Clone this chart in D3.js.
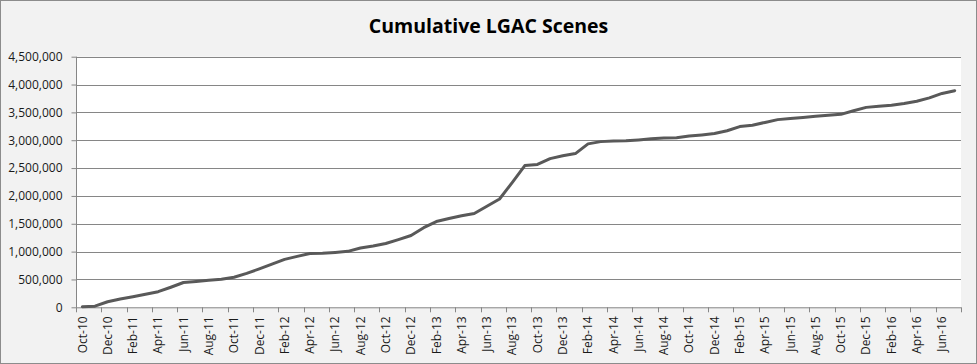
<!DOCTYPE html>
<html>
<head>
<meta charset="utf-8">
<script src="https://cdn.jsdelivr.net/npm/d3@7"></script>
<style>
  html, body { margin: 0; padding: 0; background: #fff; }
  svg { display: block; }
</style>
</head>
<body>
<svg id="chart" width="977" height="364"></svg>
<script>
const title = "Cumulative LGAC Scenes";

const months = [
  "Oct-10","Nov-10","Dec-10",
  "Jan-11","Feb-11","Mar-11","Apr-11","May-11","Jun-11","Jul-11","Aug-11","Sep-11","Oct-11","Nov-11","Dec-11",
  "Jan-12","Feb-12","Mar-12","Apr-12","May-12","Jun-12","Jul-12","Aug-12","Sep-12","Oct-12","Nov-12","Dec-12",
  "Jan-13","Feb-13","Mar-13","Apr-13","May-13","Jun-13","Jul-13","Aug-13","Sep-13","Oct-13","Nov-13","Dec-13",
  "Jan-14","Feb-14","Mar-14","Apr-14","May-14","Jun-14","Jul-14","Aug-14","Sep-14","Oct-14","Nov-14","Dec-14",
  "Jan-15","Feb-15","Mar-15","Apr-15","May-15","Jun-15","Jul-15","Aug-15","Sep-15","Oct-15","Nov-15","Dec-15",
  "Jan-16","Feb-16","Mar-16","Apr-16","May-16","Jun-16","Jul-16"
];

const scenes = [
  10000, 20000, 100000,
  150000, 190000, 235000, 280000, 360000, 445000, 465000, 485000, 505000, 540000, 610000, 690000,
  775000, 860000, 915000, 965000, 970000, 985000, 1005000, 1065000, 1100000, 1145000, 1215000, 1290000,
  1430000, 1540000, 1595000, 1645000, 1685000, 1815000, 1945000, 2240000, 2545000, 2565000, 2670000, 2720000,
  2760000, 2935000, 2975000, 2985000, 2990000, 3005000, 3025000, 3040000, 3045000, 3075000, 3095000, 3120000,
  3170000, 3245000, 3270000, 3320000, 3370000, 3390000, 3410000, 3430000, 3450000, 3465000, 3530000, 3590000,
  3610000, 3630000, 3660000, 3700000, 3760000, 3840000, 3890000
];

const yTicks = [0, 500000, 1000000, 1500000, 2000000, 2500000, 3000000, 3500000, 4000000, 4500000];

const W = 977, H = 364;
const plot = { left: 76, right: 961, top: 56.7, bottom: 307.3 };

const svg = d3.select("#chart");

// chart background + border
svg.append("rect").attr("x", 0.5).attr("y", 0.5).attr("width", W - 1).attr("height", H - 1)
  .attr("fill", "#f2f2f2").attr("stroke", "#8c8c8c").attr("stroke-width", 1);

// plot area
svg.append("rect").attr("x", plot.left).attr("y", plot.top)
  .attr("width", plot.right - plot.left).attr("height", plot.bottom - plot.top)
  .attr("fill", "#ffffff");

const x = d3.scaleBand().domain(months).range([plot.left, plot.right]).padding(0);
const y = d3.scaleLinear().domain([0, 4500000]).range([plot.bottom, plot.top]);

const fmt = d3.format(",");

// gridlines
svg.append("g").selectAll("line").data(yTicks.slice(1)).join("line")
  .attr("x1", plot.left).attr("x2", plot.right)
  .attr("y1", d => Math.round(y(d)) + 0.5).attr("y2", d => Math.round(y(d)) + 0.5)
  .attr("stroke", "#868686").attr("stroke-width", 1);

// y axis
const yAxis = d3.axisLeft(y).tickValues(yTicks).tickFormat(fmt).tickSize(5).tickPadding(9);
const gy = svg.append("g").attr("transform", `translate(${plot.left + 0.5},0)`).call(yAxis);
gy.select(".domain").attr("stroke", "#868686").attr("d", `M0,${plot.top}V${plot.bottom}`);
gy.selectAll(".tick line").attr("stroke", "#868686");
gy.selectAll(".tick text")
  .attr("font-family", "'Open Sans', sans-serif").attr("font-size", "12px").attr("fill", "#1a1a1a");

// x axis : labels every 2 months, tick marks on category boundaries
const labelMonths = months.filter((d, i) => i % 2 === 0);
const xAxis = d3.axisBottom(x).tickValues(labelMonths).tickSize(0).tickPadding(0);
const gx = svg.append("g").attr("transform", `translate(0,${plot.bottom})`).call(xAxis);
gx.select(".domain").attr("stroke", "#868686").attr("d", `M${plot.left},0.5H${plot.right}`);
gx.selectAll(".tick text")
  .attr("font-family", "'Open Sans', sans-serif").attr("font-size", "12px").attr("fill", "#1a1a1a")
  .attr("text-anchor", "end").attr("dy", "0.35em")
  .attr("transform", "translate(0,9) rotate(-90)")
  .attr("x", 0).attr("y", 0);

const boundaries = months.filter((d, i) => i % 2 === 0).map(d => x(d)).concat([plot.right]);
svg.append("g").selectAll("line").data(boundaries).join("line")
  .attr("x1", d => Math.round(d) + 0.5).attr("x2", d => Math.round(d) + 0.5)
  .attr("y1", plot.bottom).attr("y2", plot.bottom + 5)
  .attr("stroke", "#868686");

// line
const line = d3.line()
  .x((d, i) => x(months[i]) + x.bandwidth() / 2)
  .y(d => y(d));
svg.append("path").datum(scenes)
  .attr("d", line)
  .attr("fill", "none").attr("stroke", "#595959").attr("stroke-width", 3)
  .attr("stroke-linejoin", "round").attr("stroke-linecap", "round");

// title
svg.append("text").attr("x", W / 2).attr("y", 33)
  .attr("text-anchor", "middle")
  .attr("font-family", "'Open Sans', sans-serif").attr("font-weight", "bold").attr("font-size", "19.5px")
  .attr("fill", "#000")
  .text(title);
</script>
</body>
</html>
